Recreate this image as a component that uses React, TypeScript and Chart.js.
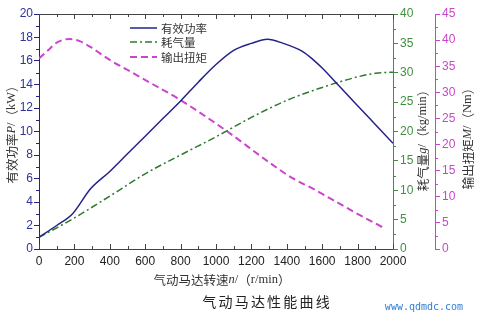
import React, { useEffect, useRef } from "react";
import { Chart, registerables } from "chart.js";

Chart.register(...registerables);

// ---- data ----
const speedPower = [0, 100, 190, 290, 400, 500, 600, 700, 800, 900, 1000, 1100, 1200, 1290, 1380, 1490, 1550, 1600, 1700, 1800, 1900, 2000];
const power = [1.0, 2.0, 3.0, 5.1, 6.6, 8.1, 9.6, 11.1, 12.6, 14.2, 15.7, 16.9, 17.5, 17.85, 17.5, 16.8, 16.1, 15.4, 13.8, 12.2, 10.6, 9.0];

const speedAir = [0, 100, 200, 400, 600, 800, 1000, 1200, 1400, 1600, 1800, 1900, 2000];
const airUse = [2.0, 3.6, 5.3, 9.0, 12.8, 16.0, 19.1, 22.4, 25.3, 27.5, 29.3, 29.9, 30.1];

const speedTorque = [0, 50, 100, 170, 230, 290, 400, 520, 630, 800, 1060, 1300, 1430, 1550, 1660, 1780, 1950];
const torque = [36.5, 38.0, 39.5, 40.2, 39.8, 38.7, 36.2, 33.9, 31.8, 28.5, 22.6, 16.6, 13.6, 11.5, 9.4, 7.1, 4.0];

const seriesNames = ["有效功率", "耗气量", "输出扭矩"];
const xRange = [0, 2000, 200];
const powerRange = [0, 20, 2];
const airRange = [0, 40, 5];
const torqueRange = [0, 45, 5];

const xTitle = [["气动马达转速", "cjk"], ["n", "it"], ["/", "ser"], ["（", "cjk"], ["r/min", "ser"], ["）", "cjk"]];
const pTitle = [["有效功率", "cjk"], ["P", "it"], ["/", "ser"], ["（", "cjk"], ["kW", "ser"], ["）", "cjk"]];
const aTitle = [["耗气量", "cjk"], ["g", "it"], ["/", "ser"], ["（", "cjk"], ["kg/min", "ser"], ["）", "cjk"]];
const tTitle = [["输出扭矩", "cjk"], ["M", "it"], ["/", "ser"], ["（", "cjk"], ["Nm", "ser"], ["）", "cjk"]];
const caption = "气动马达性能曲线";
const watermark = "www.qdmdc.com";

// ---- styles ----
const NAVY = "#23238a";
const NAVY_LABEL = "#2f3299";
const GREEN = "#2f7a2f";
const GREEN_AXIS = "#3f8f3f";
const MAGENTA = "#cc44cc";
const MAGENTA_AXIS = "#d040d0";
const CJK = '"Noto Sans CJK SC", sans-serif';

function fontFor(kind: string, size: number) {
  if (kind === "cjk") return `${size}px ${CJK}`;
  if (kind === "it") return `italic ${size}px "Liberation Serif", serif`;
  return `${size}px "Liberation Serif", serif`;
}

function drawMixed(ctx: CanvasRenderingContext2D, segs: string[][], cx: number, cy: number, rot: number, size: number, color: string) {
  ctx.save();
  ctx.translate(cx, cy);
  ctx.rotate(rot);
  let total = 0;
  for (const s of segs) {
    ctx.font = fontFor(s[1], size);
    total += ctx.measureText(s[0]).width;
  }
  let xx = -total / 2;
  ctx.textBaseline = "middle";
  ctx.textAlign = "left";
  ctx.fillStyle = color;
  for (const s of segs) {
    ctx.font = fontFor(s[1], size);
    ctx.fillText(s[0], xx, 0);
    xx += ctx.measureText(s[0]).width;
  }
  ctx.restore();
}

const decor = {
  id: "decor",
  afterDraw(chart: any) {
    const { ctx, chartArea: ca, scales } = chart;
    const x = scales.x, yP = scales.yP, yA = scales.yA, yT = scales.yT;
    const ln = (x1: number, y1: number, x2: number, y2: number) => {
      ctx.beginPath();
      ctx.moveTo(x1, y1);
      ctx.lineTo(x2, y2);
      ctx.stroke();
    };
    ctx.save();
    ctx.lineWidth = 1;
    // top frame
    ctx.strokeStyle = "#444";
    ln(ca.left, Math.round(ca.top) + 0.5, ca.right, Math.round(ca.top) + 0.5);
    // inward x ticks
    for (let v = xRange[0]; v <= xRange[1]; v += xRange[2] / 2) {
      const px = Math.round(x.getPixelForValue(v)) + 0.5;
      const len = v % xRange[2] === 0 ? 5 : 3;
      ln(px, ca.bottom, px, ca.bottom - len);
      ln(px, ca.top, px, ca.top + len);
    }
    // minor ticks on y axes
    ctx.strokeStyle = NAVY;
    for (let v = powerRange[0] + powerRange[2] / 2; v < powerRange[1]; v += powerRange[2]) {
      const py = Math.round(yP.getPixelForValue(v)) + 0.5;
      ln(yP.right - 3, py, yP.right, py);
    }
    ctx.strokeStyle = GREEN_AXIS;
    for (let v = airRange[0] + airRange[2] / 2; v < airRange[1]; v += airRange[2]) {
      const py = Math.round(yA.getPixelForValue(v)) + 0.5;
      ln(yA.left, py, yA.left + 3, py);
    }
    ctx.strokeStyle = MAGENTA_AXIS;
    for (let v = torqueRange[0] + torqueRange[2] / 2; v < torqueRange[1]; v += torqueRange[2]) {
      const py = Math.round(yT.getPixelForValue(v)) + 0.5;
      ln(yT.left, py, yT.left + 3, py);
    }
    // legend
    const ds = chart.data.datasets;
    const rows = [28, 42, 57];
    ds.forEach((d: any, i: number) => {
      ctx.save();
      ctx.strokeStyle = d.borderColor;
      ctx.lineWidth = d.borderWidth;
      ctx.setLineDash(d.borderDash || []);
      ln(130, rows[i], 157, rows[i]);
      ctx.restore();
      ctx.font = `11.5px ${CJK}`;
      ctx.fillStyle = "#333";
      ctx.textBaseline = "middle";
      ctx.textAlign = "left";
      ctx.fillText(d.label, 161, rows[i] + 0.5);
    });
    // axis titles
    const midY = (ca.top + ca.bottom) / 2;
    drawMixed(ctx, pTitle, 12, midY, -Math.PI / 2, 12.5, "#333");
    drawMixed(ctx, aTitle, 423, midY + 6, -Math.PI / 2, 12.5, "#333");
    drawMixed(ctx, tTitle, 468, midY + 4, -Math.PI / 2, 12.5, "#333");
    drawMixed(ctx, xTitle, 222, 280, 0, 12.5, "#333");
    // caption
    ctx.font = `14px ${CJK}`;
    ctx.fillStyle = "#222";
    ctx.textBaseline = "middle";
    ctx.textAlign = "center";
    const adv = 16.2;
    const start = 266 - (adv * (caption.length - 1)) / 2;
    for (let i = 0; i < caption.length; i++) ctx.fillText(caption[i], start + i * adv, 302);
    // watermark
    ctx.font = `10px "DejaVu Sans Mono", monospace`;
    ctx.fillStyle = "#2f7fd6";
    ctx.fillText(watermark, 424, 307);
    ctx.restore();
  },
};

export default function App() {
  const ref = useRef<HTMLCanvasElement>(null);
  useEffect(() => {
    if (!ref.current) return;
    const tickFont = { family: '"Liberation Sans", Arial, sans-serif', size: 12 };
    const plain = (v: any) => String(v);
    const chart = new Chart(ref.current, {
      type: "line",
      data: {
        datasets: [
          {
            label: seriesNames[0],
            data: speedPower.map((s, i) => ({ x: s, y: power[i] })),
            borderColor: NAVY,
            borderWidth: 1.5,
            yAxisID: "yP",
            cubicInterpolationMode: "monotone",
          },
          {
            label: seriesNames[1],
            data: speedAir.map((s, i) => ({ x: s, y: airUse[i] })),
            borderColor: GREEN,
            borderWidth: 1.5,
            borderDash: [7, 3, 2, 3],
            yAxisID: "yA",
            cubicInterpolationMode: "monotone",
          },
          {
            label: seriesNames[2],
            data: speedTorque.map((s, i) => ({ x: s, y: torque[i] })),
            borderColor: MAGENTA,
            borderWidth: 2,
            borderDash: [7, 4],
            yAxisID: "yT",
            cubicInterpolationMode: "monotone",
          },
        ],
      },
      options: {
        responsive: false,
        animation: false,
        layout: { padding: { top: 14, left: 0, right: 0, bottom: 0 } },
        plugins: { legend: { display: false }, tooltip: { enabled: false } },
        elements: { point: { radius: 0 } },
        scales: {
          x: {
            type: "linear",
            position: "bottom",
            min: xRange[0],
            max: xRange[1],
            ticks: { stepSize: xRange[2], color: "#222", font: tickFont, padding: 5, maxRotation: 0, autoSkip: false, callback: plain },
            grid: { display: false, drawTicks: false },
            border: { color: "#444" },
            afterFit: (s: any) => { s.height = 73; },
          },
          yP: {
            position: "left",
            min: powerRange[0],
            max: powerRange[1],
            ticks: { stepSize: powerRange[2], color: NAVY_LABEL, font: tickFont, padding: 1, callback: plain },
            grid: { display: true, drawOnChartArea: false, drawTicks: true, tickLength: 5, color: NAVY },
            border: { color: NAVY },
            afterFit: (s: any) => { s.width = 39; },
          },
          yA: {
            position: "right",
            weight: 1,
            min: airRange[0],
            max: airRange[1],
            ticks: { stepSize: airRange[2], color: GREEN_AXIS, font: tickFont, padding: 2, callback: plain },
            grid: { display: true, drawOnChartArea: false, drawTicks: true, tickLength: 5, color: GREEN_AXIS },
            border: { color: GREEN_AXIS },
            afterFit: (s: any) => { s.width = 42; },
          },
          yT: {
            position: "right",
            weight: 2,
            min: torqueRange[0],
            max: torqueRange[1],
            ticks: { stepSize: torqueRange[2], color: MAGENTA, font: tickFont, padding: 2, callback: plain },
            grid: { display: true, drawOnChartArea: false, drawTicks: true, tickLength: 5, color: MAGENTA_AXIS },
            border: { color: MAGENTA_AXIS },
            afterFit: (s: any) => { s.width = 45; },
          },
        },
      },
      plugins: [decor],
    } as any);
    return () => chart.destroy();
  }, []);
  return (
    <div style={{ position: "absolute", left: 0, top: 0, width: 480, height: 322, background: "#fff" }}>
      <canvas ref={ref} width={480} height={322} />
    </div>
  );
}
